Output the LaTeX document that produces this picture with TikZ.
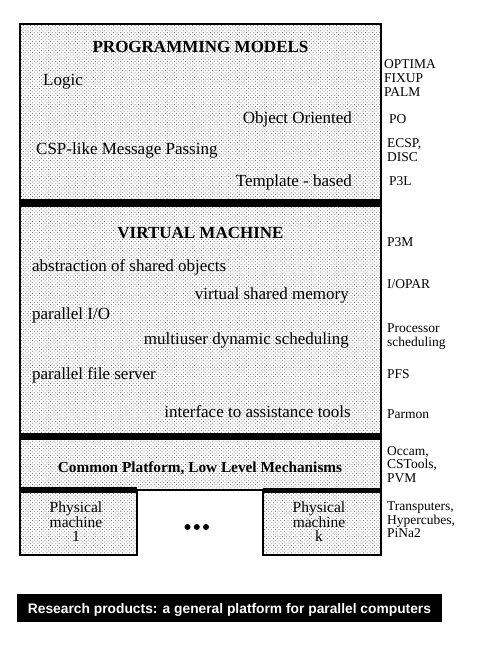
\documentclass[tikz,border=0pt]{standalone}
\usepackage{fontspec}
\setmainfont{Liberation Serif}
\newfontfamily\capfont{Liberation Sans}
\usetikzlibrary{patterns}
\pgfdeclarepatternformonly{screendots}{\pgfpoint{-1pt}{-1pt}}{\pgfpoint{2.6pt}{2.6pt}}{\pgfpoint{3.6pt}{3.6pt}}{%
  \pgfpathcircle{\pgfpoint{0pt}{0pt}}{0.5pt}%
  \pgfpathcircle{\pgfpoint{1.8pt}{1.8pt}}{0.5pt}%
  \pgfusepath{fill}}
\begin{document}
\begin{tikzpicture}[x=1pt,y=-1pt,
  dotted area/.style={pattern=screendots, pattern color=black!65},
  frame/.style={draw=black, line width=2pt},
  barfill/.style={fill=black},
  item/.style={inner sep=0pt, font=\fontsize{17}{20}\selectfont},
  ttl/.style={inner sep=0pt, anchor=base, font=\bfseries\fontsize{17}{20}\selectfont},
  ttlsmall/.style={inner sep=0pt, anchor=base, font=\bfseries\fontsize{15.3}{18}\selectfont},
  phys/.style={inner sep=0pt, anchor=base, font=\fontsize{15.5}{18}\selectfont},
  side/.style={inner sep=0pt, anchor=base west, font=\fontsize{13.5}{14}\selectfont},
  capbox/.style={fill=black, inner sep=0pt, minimum width=425pt, minimum height=28pt},
  captext/.style={inner sep=0pt, anchor=base, text=white, font=\capfont\bfseries\fontsize{13.8}{16}\selectfont}]
\path[fill=white] (0,0) rectangle (479,650);
\useasboundingbox (0,0) rectangle (479,650);
% layers
\path[dotted area] (20,24) rectangle (381,490);
\path[dotted area] (20,490) rectangle (137,555);
\path[dotted area] (263,490) rectangle (381,555);
\draw[frame] (20,24) rectangle (381,490);
\draw[frame] (20,490) rectangle (137,555);
\draw[frame] (263,490) rectangle (381,555);
\fill[barfill] (20,199) rectangle (381,207);
\fill[barfill] (20,432.5) rectangle (381,440);
\fill[barfill] (20,487) rectangle (137,493);
\fill[barfill] (263,487.5) rectangle (381,493);
% programming models
\node[ttl] (pmt) at (200.5,53) {PROGRAMMING MODELS};
\node[item, anchor=base west] (logic) at (43,86) {Logic};
\node[item, anchor=base east] (oo) at (352,124) {Object Oriented};
\node[item, anchor=base west] (csp) at (36,154) {CSP-like Message Passing};
\node[item, anchor=base east] (tb) at (352,186) {Template - based};
\node[side] (s1) at (384,69) {OPTIMA};
\node[side] (s2) at (384,83) {FIXUP};
\node[side] (s3) at (384,97) {PALM};
\node[side] (s4) at (389,124) {PO};
\node[side] (s5) at (387,147) {ECSP,};
\node[side] (s6) at (387,161) {DISC};
\node[side] (s7) at (389,185) {P3L};
% virtual machine
\node[ttl] (vmt) at (200.5,238) {VIRTUAL MACHINE};
\node[item, anchor=base west] (aso) at (32,271) {abstraction of shared objects};
\node[item, anchor=base east] (vsm) at (349,299) {virtual shared memory};
\node[item, anchor=base west] (pio) at (32,319) {parallel I/O};
\node[item, anchor=base east] (mds) at (349,344) {multiuser dynamic scheduling};
\node[item, anchor=base west] (pfs) at (32,379) {parallel file server};
\node[item, anchor=base east] (iat) at (351,417) {interface to assistance tools};
\node[side] (v1) at (387,246) {P3M};
\node[side] (v2) at (387,288) {I/OPAR};
\node[side] (v3) at (387,332) {Processor};
\node[side] (v4) at (387,346) {scheduling};
\node[side] (v5) at (387,378) {PFS};
\node[side] (v6) at (387,418) {Parmon};
% common platform
\node[ttlsmall] (cpt) at (200,472) {Common Platform, Low Level Mechanisms};
\node[side] (c1) at (387,455) {Occam,};
\node[side] (c2) at (387,468.5) {CSTools,};
\node[side] (c3) at (387,482) {PVM};
% physical machines
\node[phys] (m1a) at (76,512) {Physical};
\node[phys] (m1b) at (76,527) {machine};
\node[phys] (m1c) at (76,541) {1};
\node[phys] (mka) at (319,512) {Physical};
\node[phys] (mkb) at (319,527) {machine};
\node[phys] (mkc) at (319,541) {k};
\fill (187.5,527) circle (3);
\fill (196.8,527) circle (3);
\fill (206,527) circle (3);
\node[side] (h1) at (387,510) {Transputers,};
\node[side] (h2) at (387,524) {Hypercubes,};
\node[side] (h3) at (387,537.5) {PiNa2};
% caption
\node[capbox] (cap) at (229.5,608) {};
\node[captext] (captxt) at (229.5,613) {Research products: a general platform for parallel computers};
\end{tikzpicture}
\end{document}
